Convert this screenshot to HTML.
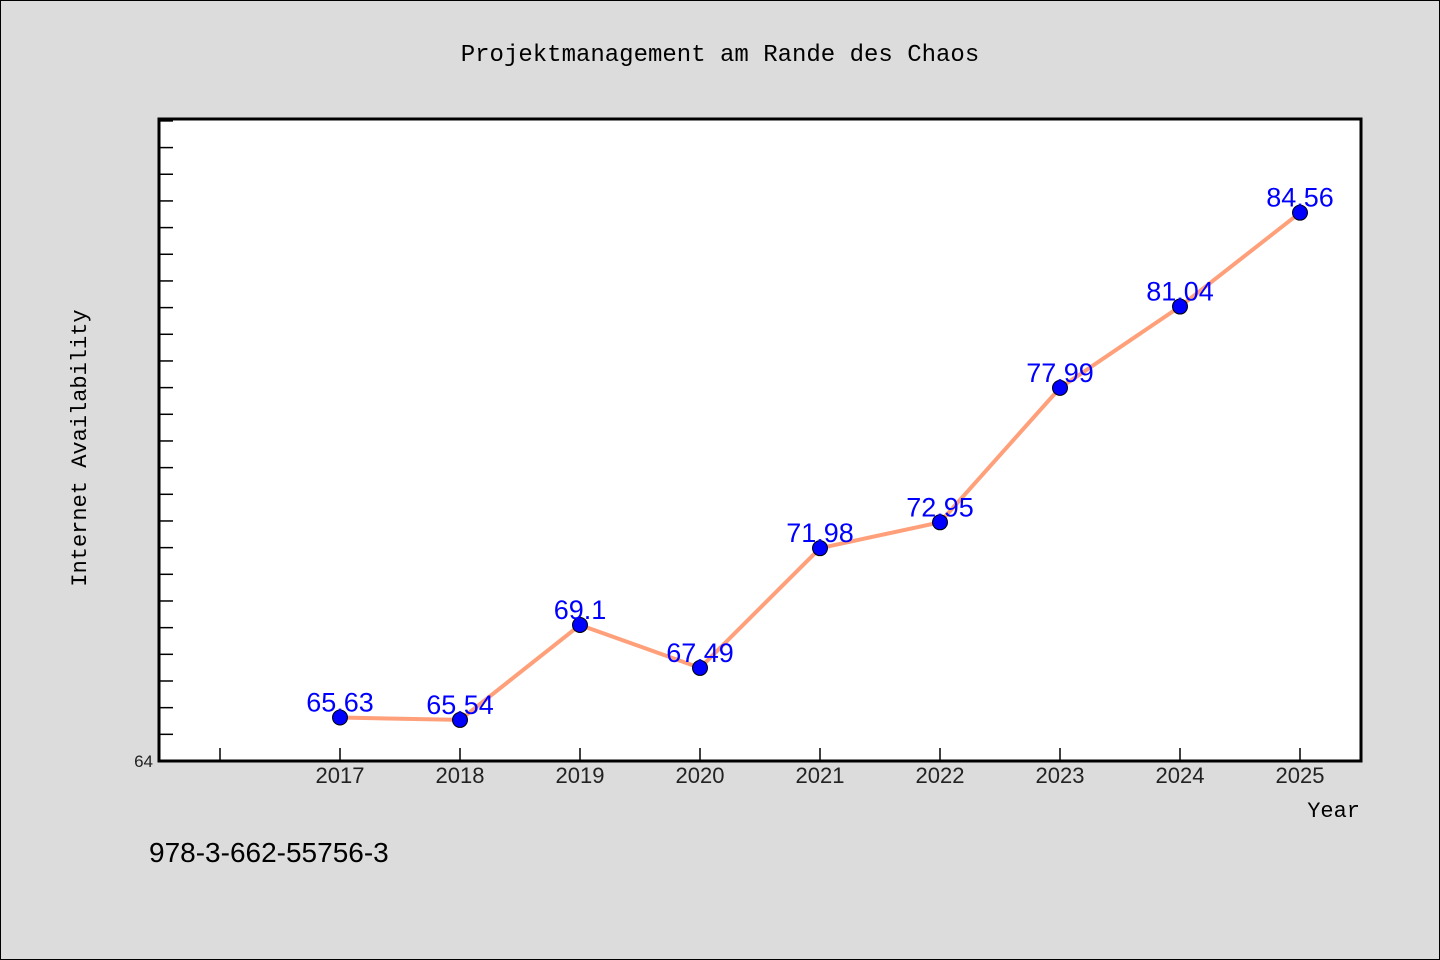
<!DOCTYPE html>
<html><head><meta charset="utf-8"><style>
body{margin:0;background:#dcdcdc;}
svg{display:block;font-family:"Liberation Mono","DejaVu Sans Mono",monospace;}
</style></head><body>
<svg id="chart" width="1440" height="960">
<rect x="0.5" y="0.5" width="1439" height="959" fill="#dcdcdc" stroke="#000"/>
<text x="720" y="61" text-anchor="middle" font-size="24" fill="#000">Projektmanagement am Rande des Chaos</text>
<rect x="159" y="119" width="1202" height="642" fill="#fff"/>
<g id="ticks"></g>
<g id="series"></g>
<rect x="159" y="119" width="1202" height="642" fill="none" stroke="#000" stroke-width="3"/>
<text x="86" y="448" text-anchor="middle" font-size="22" fill="#000" transform="rotate(-90 86 448)">Internet Availability</text>
<text x="1360" y="817" text-anchor="end" font-size="22" fill="#000">Year</text>
<text x="149" y="862" font-family="Liberation Sans, sans-serif" font-size="28" fill="#000">978-3-662-55756-3</text>
</svg>
<script>
const years=[2017,2018,2019,2020,2021,2022,2023,2024,2025];
const values=[65.63,65.54,69.1,67.49,71.98,72.95,77.99,81.04,84.56];
const labels=["65.63","65.54","69.1","67.49","71.98","72.95","77.99","81.04","84.56"];
const ns="http://www.w3.org/2000/svg";
function xs(v){return 220+(v-2016)*120;}
function ys(v){return 761-(v-64)*26.67;}
function mk(t,a,p){const e=document.createElementNS(ns,t);for(const k in a)e.setAttribute(k,a[k]);p.appendChild(e);return e;}
const tg=document.getElementById('ticks');
for(let v=65;v<=88;v++){
 const l=mk('line',{x1:160,x2:173,y1:ys(v),y2:ys(v),stroke:'#000','stroke-width':1.5},tg);
 
 
}
const yl=mk('text',{x:153,y:767,'text-anchor':'end','font-size':17,fill:'#222','font-family':'Liberation Sans, sans-serif'},tg);
yl.textContent='64';


for(let y=2016;y<=2025;y++){
 const l=mk('line',{x1:xs(y),x2:xs(y),y1:760,y2:748,stroke:'#000','stroke-width':1.5},tg);
 
 
 if(y>2016){
  const t=mk('text',{x:xs(y),y:783,'text-anchor':'middle','font-size':22,fill:'#222','font-family':'Liberation Sans, sans-serif'},tg);
  t.textContent=String(y);
  
  
 }
}
const sg=document.getElementById('series');
const pts=years.map((y,i)=>xs(y)+','+ys(values[i])).join(' ');
const pl=mk('polyline',{points:pts,fill:'none',stroke:'#ffa07a','stroke-width':4,'stroke-linejoin':'round'},sg);


years.forEach((y,i)=>{
 const c=mk('circle',{cx:xs(y),cy:ys(values[i]),r:7.5,fill:'#0000ff',stroke:'#000','stroke-width':1},sg);
 
 
 const t=mk('text',{x:xs(y),y:ys(values[i])-6,'text-anchor':'middle','font-size':27,fill:'#0000ff','font-family':'Liberation Sans, sans-serif'},sg);
 t.textContent=labels[i];
 
 
});
</script>
</body></html>
